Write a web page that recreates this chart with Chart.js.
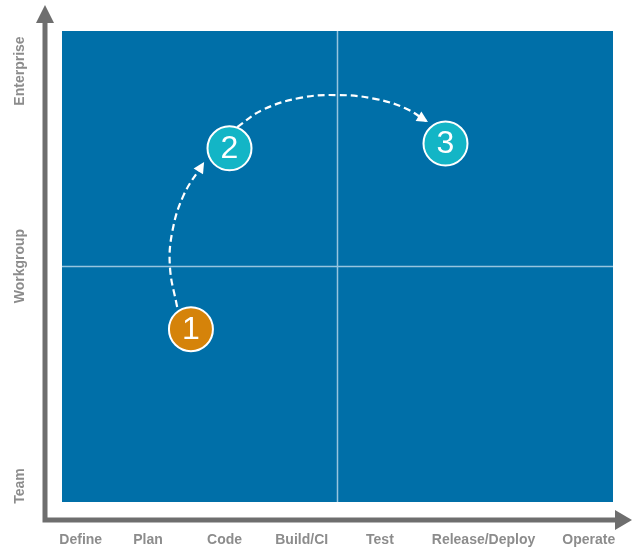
<!DOCTYPE html>
<html>
<head>
<meta charset="utf-8">
<script src="https://cdn.jsdelivr.net/npm/chart.js@4"></script>
<style>
html,body{margin:0;padding:0;background:#fff;}
canvas{display:block;}
</style>
</head>
<body>
<canvas id="maturity" width="632" height="547"></canvas>
<script>
// both axes run 0..100, quadrant split in the middle
var stageLabels = ["Define","Plan","Code","Build/CI","Test","Release/Deploy","Operate"];
var stagePos    = [3.4, 15.6, 29.5, 43.5, 57.7, 76.5, 95.6];
var levelLabels = ["Team","Workgroup","Enterprise"];
var levelPos    = [3.4, 50.1, 91.5];
var quadrantSplit = 50;

// the numbered steps
var stepNames  = ["1","2","3"];
var stepX      = [23.4, 30.4, 69.6];
var stepY      = [36.7, 75.1, 76.1];
var stepColors = ["#d5830a","#13b5c6","#13b5c6"];

// dashed paths: 1 -> 2 and 2 -> 3
var pathA_X = [20.9, 19.6, 20.0, 22.1, 25.6];
var pathA_Y = [41.4, 49.7, 57.3, 65.2, 71.8];
var pathB_X = [31.8, 36.3, 43.2, 50.1, 56.8, 62.3, 66.1];
var pathB_Y = [79.6, 83.2, 85.8, 86.4, 85.6, 83.6, 80.9];

function pts(xs, ys){
  return xs.map(function(x, i){ return {x: x, y: ys[i]}; });
}

var labelFont = 'bold 14px "Liberation Sans", Arial, sans-serif';
var labelColor = '#8c8c8c';
var axisColor = '#6e6e6e';

var quadrantPlugin = {
  id: 'quadrant',
  beforeDatasetsDraw: function(chart){
    var ctx = chart.ctx, a = chart.chartArea;
    var xs = chart.scales.x, ys = chart.scales.y;
    ctx.save();
    ctx.fillStyle = '#006fa8';
    ctx.fillRect(a.left, a.top, a.right - a.left, a.bottom - a.top);
    ctx.strokeStyle = 'rgba(200,225,242,0.75)';
    ctx.lineWidth = 1.5;
    var mx = xs.getPixelForValue(quadrantSplit), my = ys.getPixelForValue(quadrantSplit);
    ctx.beginPath();
    ctx.moveTo(mx, a.top); ctx.lineTo(mx, a.bottom);
    ctx.moveTo(a.left, my); ctx.lineTo(a.right, my);
    ctx.stroke();
    ctx.restore();
  },
  afterDatasetsDraw: function(chart){
    var ctx = chart.ctx;
    ctx.save();
    // arrow heads at the end of the dashed paths
    [1, 2].forEach(function(di){
      var els = chart.getDatasetMeta(di).data;
      var p = els[els.length - 1];
      var dx = p.x - p.cp1x, dy = p.y - p.cp1y;
      var ang = Math.atan2(dy, dx);
      ctx.save();
      ctx.translate(p.x, p.y);
      ctx.rotate(ang);
      ctx.fillStyle = '#ffffff';
      ctx.beginPath();
      ctx.moveTo(2, 0);
      ctx.lineTo(-9, -5.5);
      ctx.lineTo(-9, 5.5);
      ctx.closePath();
      ctx.fill();
      ctx.restore();
    });
    // numbers in the circles
    var circles = chart.getDatasetMeta(0).data;
    ctx.fillStyle = '#ffffff';
    ctx.font = '32px "Liberation Sans", Arial, sans-serif';
    ctx.textAlign = 'center';
    ctx.textBaseline = 'middle';
    circles.forEach(function(el, i){
      ctx.fillText(stepNames[i], el.x, el.y + 1);
    });
    ctx.restore();
  },
  afterDraw: function(chart){
    var ctx = chart.ctx, a = chart.chartArea;
    var xs = chart.scales.x, ys = chart.scales.y;
    var ax = a.left - 17, ay = a.bottom + 18;
    ctx.save();
    ctx.strokeStyle = axisColor;
    ctx.fillStyle = axisColor;
    ctx.lineWidth = 5;
    ctx.beginPath();
    ctx.moveTo(ax, a.top - 10);
    ctx.lineTo(ax, ay);
    ctx.lineTo(a.right + 4, ay);
    ctx.stroke();
    ctx.beginPath();
    ctx.moveTo(ax - 9, a.top - 8);
    ctx.lineTo(ax + 9, a.top - 8);
    ctx.lineTo(ax, a.top - 26);
    ctx.closePath();
    ctx.fill();
    ctx.beginPath();
    ctx.moveTo(a.right + 2, ay - 10);
    ctx.lineTo(a.right + 2, ay + 10);
    ctx.lineTo(a.right + 19, ay);
    ctx.closePath();
    ctx.fill();

    ctx.font = labelFont;
    ctx.fillStyle = labelColor;
    ctx.textAlign = 'center';
    ctx.textBaseline = 'middle';
    stageLabels.forEach(function(t, i){
      ctx.fillText(t, xs.getPixelForValue(stagePos[i]), a.bottom + 38);
    });
    levelLabels.forEach(function(t, i){
      ctx.save();
      ctx.translate(20, ys.getPixelForValue(levelPos[i]));
      ctx.rotate(-Math.PI / 2);
      ctx.fillText(t, 0, 0);
      ctx.restore();
    });
    ctx.restore();
  }
};

new Chart(document.getElementById('maturity'), {
  type: 'scatter',
  data: {
    datasets: [
      {
        data: pts(stepX, stepY),
        pointRadius: 22,
        pointBackgroundColor: stepColors,
        pointBorderColor: '#ffffff',
        pointBorderWidth: 2,
        order: 0
      },
      {
        data: pts(pathA_X, pathA_Y),
        showLine: true,
        borderColor: '#ffffff',
        borderWidth: 2.2,
        borderDash: [7, 4],
        tension: 0.4,
        pointRadius: 0,
        order: 1
      },
      {
        data: pts(pathB_X, pathB_Y),
        showLine: true,
        borderColor: '#ffffff',
        borderWidth: 2.2,
        borderDash: [7, 4],
        tension: 0.4,
        pointRadius: 0,
        order: 1
      }
    ]
  },
  options: {
    responsive: false,
    devicePixelRatio: 1,
    animation: false,
    layout: { autoPadding: false, padding: { left: 62, top: 31, right: 19, bottom: 45 } },
    scales: {
      x: { type: 'linear', min: 0, max: 100, display: false },
      y: { type: 'linear', min: 0, max: 100, display: false }
    },
    plugins: {
      legend: { display: false },
      tooltip: { enabled: false }
    }
  },
  plugins: [quadrantPlugin]
});
</script>
</body>
</html>
